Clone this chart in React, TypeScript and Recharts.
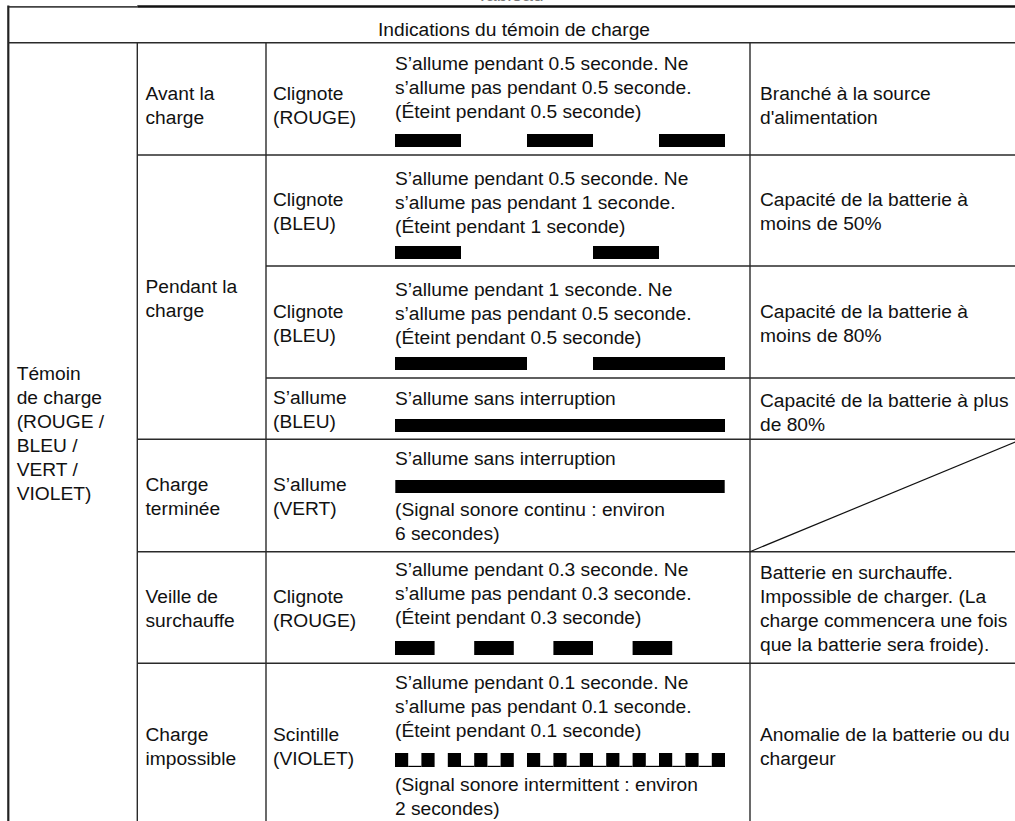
import React from 'react';
import { BarChart, Bar, XAxis, YAxis } from 'recharts';

// ---------- DATA ----------
// Blink patterns (seconds), alternating ON / OFF, starting with ON
const timeSpan = [0, 2.5];
const avantChargeRouge = [0.5, 0.5, 0.5, 0.5, 0.5];
const moins50Bleu = [0.5, 1, 0.5];
const moins80Bleu = [1, 0.5, 1];
const plus80Bleu = [2.5];
const termineeVert = [2.5];
const surchauffeRouge = [0.3, 0.3, 0.3, 0.3, 0.3, 0.3, 0.3];
const impossibleViolet = [
  0.1, 0.1, 0.1, 0.1, 0.1, 0.1, 0.1, 0.1, 0.1, 0.1, 0.1, 0.1, 0.1,
  0.1, 0.1, 0.1, 0.1, 0.1, 0.1, 0.1, 0.1, 0.1, 0.1, 0.1, 0.1,
];
// thin base line drawn under each OFF gap of the last pattern
const impossibleGapLine = [true, false, true, true, false, true, true, true, true, true, true, true];

const pageTitle = 'Tableau';
const headerTitle = 'Indications du témoin de charge';
const temoinLabel = ['Témoin', 'de charge', '(ROUGE /', 'BLEU /', 'VERT /', 'VIOLET)'];
const phaseLabels = [
  ['Avant la', 'charge'],
  ['Pendant la', 'charge'],
  ['Charge', 'terminée'],
  ['Veille de', 'surchauffe'],
  ['Charge', 'impossible'],
];
const stateLabels = [
  ['Clignote', '(ROUGE)'],
  ['Clignote', '(BLEU)'],
  ['Clignote', '(BLEU)'],
  ['S’allume', '(BLEU)'],
  ['S’allume', '(VERT)'],
  ['Clignote', '(ROUGE)'],
  ['Scintille', '(VIOLET)'],
];
const descLabels = [
  ['S’allume pendant 0.5 seconde. Ne', 's’allume pas pendant 0.5 seconde.', '(Éteint pendant 0.5 seconde)'],
  ['S’allume pendant 0.5 seconde. Ne', 's’allume pas pendant 1 seconde.', '(Éteint pendant 1 seconde)'],
  ['S’allume pendant 1 seconde. Ne', 's’allume pas pendant 0.5 seconde.', '(Éteint pendant 0.5 seconde)'],
  ['S’allume sans interruption'],
  ['S’allume sans interruption'],
  ['S’allume pendant 0.3 seconde. Ne', 's’allume pas pendant 0.3 seconde.', '(Éteint pendant 0.3 seconde)'],
  ['S’allume pendant 0.1 seconde. Ne', 's’allume pas pendant 0.1 seconde.', '(Éteint pendant 0.1 seconde)'],
];
const beepContinu = ['(Signal sonore continu : environ', '6 secondes)'];
const beepIntermittent = ['(Signal sonore intermittent : environ', '2 secondes)'];
const meaningLabels = [
  ['Branché à la source', "d'alimentation"],
  ['Capacité de la batterie à', 'moins de 50%'],
  ['Capacité de la batterie à', 'moins de 80%'],
  ['Capacité de la batterie à plus', 'de 80%'],
  null,
  ['Batterie en surchauffe.', 'Impossible de charger. (La', 'charge commencera une fois', 'que la batterie sera froide).'],
  ['Anomalie de la batterie ou du', 'chargeur'],
];

// ---------- LAYOUT ----------
const FONT = '"Liberation Sans", Arial, Helvetica, sans-serif';
const FS = 19.2;
const LH = 24;
const CAP_OFF = 5.1;
const CAP_H = 13.8;

const X = { left: 8.3, c1: 137.3, c2: 266, c3: 750, right: 1022 };
const Y = { top: 6.5, head: 42.7, r1: 155, r2: 266, r3: 378, r4: 439.3, r5: 551.7, r6: 663.3, bottom: 828 };

const TX = { c0: 16.7, c1: 145.5, c2: 273, c3: 395, c4: 760 };
const BAR_X = 395;
const BAR_W = 330;

const centered = (top: number, bottom: number, n: number, off = 1.5) =>
  (top + bottom) / 2 + off - ((n - 1) * LH + CAP_H) / 2;

function TextBlock({ x, capTop, lines, center, color }: { x: number; capTop: number; lines: string[]; center?: boolean; color?: string }) {
  const style: React.CSSProperties = {
    position: 'absolute',
    left: center ? x - 250 : x,
    width: center ? 500 : undefined,
    textAlign: center ? 'center' : 'left',
    top: capTop - CAP_OFF,
    fontFamily: FONT,
    fontSize: FS,
    lineHeight: LH + 'px',
    color: color || '#111',
    whiteSpace: 'nowrap',
  };
  return (
    <div style={style}>
      {lines.map((l, i) => (
        <div key={i}>{l}</div>
      ))}
    </div>
  );
}

function PatternBar({ segments, top, height, gapLine }: { segments: number[]; top: number; height: number; gapLine?: boolean[] }) {
  const row: Record<string, number | string> = { name: 'led' };
  segments.forEach((d, i) => {
    row['s' + i] = d;
  });
  return (
    <div style={{ position: 'absolute', left: BAR_X, top }}>
      <BarChart
        width={BAR_W}
        height={height}
        data={[row]}
        layout="vertical"
        margin={{ top: 0, right: 0, bottom: 0, left: 0 }}
        barCategoryGap={0}
        barGap={0}
      >
        <XAxis type="number" domain={timeSpan} allowDataOverflow hide />
        <YAxis type="category" dataKey="name" hide />
        {segments.map((_, i) => {
          const on = i % 2 === 0;
          const line = !on && gapLine ? gapLine[(i - 1) / 2] : false;
          return (
            <Bar
              key={i}
              dataKey={'s' + i}
              stackId="t"
              fill={on ? '#000' : 'transparent'}
              isAnimationActive={false}
              shape={
                on
                  ? undefined
                  : (p: any) => (
                      <g>
                        {line ? (
                          <rect x={p.x} y={p.y + p.height - 1.2} width={p.width} height={1.2} fill="#000" />
                        ) : null}
                      </g>
                    )
              }
            />
          );
        })}
      </BarChart>
    </div>
  );
}

export default function App() {
  const stroke = '#2a2a2a';
  const sw = 1.4;
  const rowsFull = [Y.r1, Y.r4, Y.r5, Y.r6];
  const rowsInner = [Y.r2, Y.r3];
  const stateRows = [
    [Y.head, Y.r1],
    [Y.r1, Y.r2],
    [Y.r2, Y.r3],
    [Y.r3, Y.r4],
    [Y.r4, Y.r5],
    [Y.r5, Y.r6],
    [Y.r6, Y.bottom],
  ];
  const phaseRows = [
    [Y.head, Y.r1],
    [Y.r1, Y.r4],
    [Y.r4, Y.r5],
    [Y.r5, Y.r6],
    [Y.r6, Y.bottom],
  ];
  const rowOff = (i: number) => (i === 0 ? 7 : 1.5);

  return (
    <div style={{ position: 'absolute', left: 0, top: 0, width: 1015, height: 821, overflow: 'hidden', background: '#fff' }}>
      <TextBlock x={510} capTop={-12} lines={[pageTitle]} center color="#777" />
      <svg width={1015} height={821} style={{ position: 'absolute', left: 0, top: 0 }}>
        <line x1={X.left} y1={Y.top + 0.3} x2={X.c1} y2={Y.top + 0.3} stroke="#444" strokeWidth={1.8} />
        <line x1={X.c1} y1={Y.top} x2={X.right} y2={Y.top} stroke="#111" strokeWidth={2.6} />
        <line x1={X.left} y1={Y.top - 1} x2={X.left} y2={Y.bottom} stroke="#222" strokeWidth={2.2} />
        <line x1={X.left} y1={Y.head} x2={X.right} y2={Y.head} stroke={stroke} strokeWidth={sw} />
        {[X.c1, X.c2, X.c3].map((x) => (
          <line key={x} x1={x} y1={Y.head} x2={x} y2={Y.bottom} stroke={stroke} strokeWidth={sw} />
        ))}
        {rowsFull.map((y) => (
          <line key={y} x1={X.c1} y1={y} x2={X.right} y2={y} stroke={stroke} strokeWidth={sw} />
        ))}
        {rowsInner.map((y) => (
          <line key={y} x1={X.c2} y1={y} x2={X.right} y2={y} stroke={stroke} strokeWidth={sw} />
        ))}
        <line x1={X.c3} y1={Y.r5} x2={X.right} y2={Y.r4} stroke="#111" strokeWidth={1.2} />
      </svg>

      <TextBlock x={514} capTop={22.7} lines={[headerTitle]} center />
      <TextBlock x={TX.c0} capTop={367} lines={temoinLabel} />

      {phaseLabels.map((l, i) => (
        <TextBlock key={'p' + i} x={TX.c1} capTop={centered(phaseRows[i][0], phaseRows[i][1], l.length, rowOff(i))} lines={l} />
      ))}
      {stateLabels.map((l, i) => (
        <TextBlock key={'s' + i} x={TX.c2} capTop={centered(stateRows[i][0], stateRows[i][1], l.length, rowOff(i))} lines={l} />
      ))}
      {meaningLabels.map((l, i) =>
        l ? (
          <TextBlock key={'m' + i} x={TX.c4} capTop={centered(stateRows[i][0], stateRows[i][1], l.length, i === 3 ? 4 : rowOff(i))} lines={l} />
        ) : null
      )}

      <TextBlock x={TX.c3} capTop={57} lines={descLabels[0]} />
      <TextBlock x={TX.c3} capTop={171.7} lines={descLabels[1]} />
      <TextBlock x={TX.c3} capTop={282.7} lines={descLabels[2]} />
      <TextBlock x={TX.c3} capTop={392.3} lines={descLabels[3]} />
      <TextBlock x={TX.c3} capTop={451.7} lines={descLabels[4]} />
      <TextBlock x={TX.c3} capTop={503} lines={beepContinu} />
      <TextBlock x={TX.c3} capTop={563.3} lines={descLabels[5]} />
      <TextBlock x={TX.c3} capTop={676} lines={descLabels[6]} />
      <TextBlock x={TX.c3} capTop={778} lines={beepIntermittent} />

      <PatternBar segments={avantChargeRouge} top={134} height={13} />
      <PatternBar segments={moins50Bleu} top={246} height={12.5} />
      <PatternBar segments={moins80Bleu} top={357} height={13} />
      <PatternBar segments={plus80Bleu} top={419.3} height={12.5} />
      <PatternBar segments={termineeVert} top={480} height={12.7} />
      <PatternBar segments={surchauffeRouge} top={640.5} height={14} />
      <PatternBar segments={impossibleViolet} top={752.7} height={14} gapLine={impossibleGapLine} />
    </div>
  );
}
